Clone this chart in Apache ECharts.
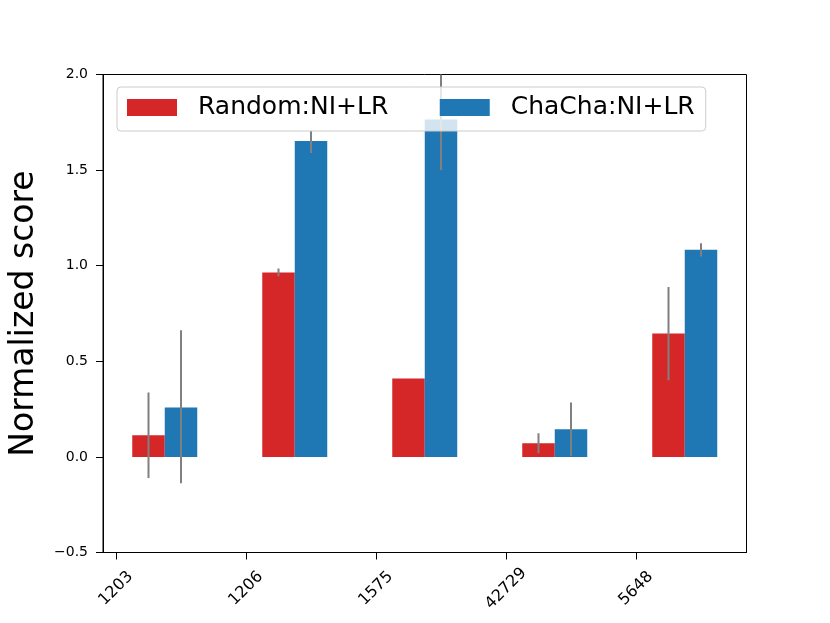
<!DOCTYPE html>
<html>
<head>
<meta charset="utf-8">
<script src="https://cdn.jsdelivr.net/npm/echarts@6/dist/echarts.min.js"></script>
<style>html,body{margin:0;padding:0;background:#fff;}#c{width:830px;height:623px;}</style>
</head>
<body>
<div id="c"></div>
<script>
const categories = ['1203', '1206', '1575', '42729', '5648'];
const seriesNames = ['Random:NI+LR', 'ChaCha:NI+LR'];
const randomMean = [0.113, 0.965, 0.41, 0.072, 0.645];
const randomLow  = [-0.11, 0.945, 0.41, 0.019, 0.401];
const randomHigh = [0.337, 0.985, 0.41, 0.124, 0.889];
const chachaMean = [0.258, 1.652, 1.765, 0.145, 1.083];
const chachaLow  = [-0.138, 1.59, 1.50, 0.005, 1.048];
const chachaHigh = [0.662, 1.704, 2.03, 0.285, 1.118];
const yTickValues = [-0.5, 0, 0.5, 1.0, 1.5, 2.0];

const FONT = 'DejaVu Sans';
const BAR_W = 0.25;
const OFFSETS = [0.25, 0.5];
const COLORS = ['#d62728', '#1f77b4'];

function barData(mean, k) { return mean.map((v, i) => [i + OFFSETS[k], v]); }
function errData(low, high, k) { return low.map((v, i) => [i + OFFSETS[k], v, high[i]]); }

function renderBar(params, api) {
  const x = api.value(0), y = api.value(1);
  const p0 = api.coord([x - BAR_W / 2, 0]);
  const p1 = api.coord([x + BAR_W / 2, y]);
  return {
    type: 'rect',
    shape: { x: p0[0], y: Math.min(p0[1], p1[1]), width: p1[0] - p0[0], height: Math.abs(p1[1] - p0[1]) },
    style: { fill: api.visual('color') }
  };
}
function renderErr(params, api) {
  const x = api.value(0), lo = api.value(1), hi = api.value(2);
  if (hi - lo <= 0) return null;
  const a = api.coord([x, lo]), b = api.coord([x, hi]);
  return {
    type: 'line',
    shape: { x1: a[0], y1: a[1], x2: b[0], y2: b[1] },
    style: { stroke: '#808080', lineWidth: 2 }
  };
}

const chart = echarts.init(document.getElementById('c'), null, { renderer: 'canvas' });
chart.setOption({
  animation: false,
  backgroundColor: '#fff',
  textStyle: { fontFamily: FONT },
  grid: { left: 103, right: 83.5, top: 74.5, bottom: 70.5, show: true, borderColor: '#000', borderWidth: 1, containLabel: false },
  legend: {
    left: 117, top: 87,
    data: seriesNames.map(n => ({ name: n, icon: 'rect' })),
    itemWidth: 50, itemHeight: 17, itemGap: 51.5,
    padding: [8, 11, 11, 10],
    backgroundColor: 'rgba(255,255,255,0.8)',
    borderColor: '#cccccc', borderWidth: 1, borderRadius: 4,
    textStyle: { fontFamily: FONT, fontSize: 25, color: '#000', lineHeight: 25, padding: [0, 0, 0, 16] },
    z: 10
  },
  xAxis: {
    type: 'value', min: -0.1, max: 4.85,
    axisLine: { show: true, onZero: false, lineStyle: { color: '#000', width: 1 } },
    axisTick: { show: true, length: 7, lineStyle: { color: '#000' }, customValues: categories.map((c, i) => i) },
    axisLabel: {
      customValues: categories.map((c, i) => i),
      formatter: v => categories[Math.round(v)],
      rotate: 45, align: 'center', verticalAlign: 'middle', margin: 36,
      fontFamily: FONT, fontSize: 16, color: '#000'
    },
    splitLine: { show: false }
  },
  yAxis: {
    type: 'value', min: -0.5, max: 2.0, interval: 0.5,
    name: 'Normalized score', nameLocation: 'middle', nameGap: 62,
    nameTextStyle: { fontFamily: FONT, fontSize: 33, color: '#000' },
    axisLine: { show: true, onZero: false, lineStyle: { color: '#000', width: 1 } },
    axisTick: { show: true, length: 7, lineStyle: { color: '#000' } },
    axisLabel: {
      margin: 15, fontFamily: FONT, fontSize: 14, color: '#000',
      customValues: yTickValues,
      formatter: v => (v < 0 ? '\u2212' + (-v).toFixed(1) : v.toFixed(1))
    },
    splitLine: { show: false }
  },
  series: [
    { name: seriesNames[0], type: 'custom', renderItem: renderBar, data: barData(randomMean, 0), itemStyle: { color: COLORS[0] }, encode: { x: 0, y: 1 }, clip: true, z: 2 },
    { name: seriesNames[1], type: 'custom', renderItem: renderBar, data: barData(chachaMean, 1), itemStyle: { color: COLORS[1] }, encode: { x: 0, y: 1 }, clip: true, z: 2 },
    { name: 'err0', type: 'custom', renderItem: renderErr, data: errData(randomLow, randomHigh, 0), encode: { x: 0, y: [1, 2] }, clip: true, z: 3 },
    { name: 'err1', type: 'custom', renderItem: renderErr, data: errData(chachaLow, chachaHigh, 1), encode: { x: 0, y: [1, 2] }, clip: true, z: 3 }
  ]
});
</script>
</body>
</html>
